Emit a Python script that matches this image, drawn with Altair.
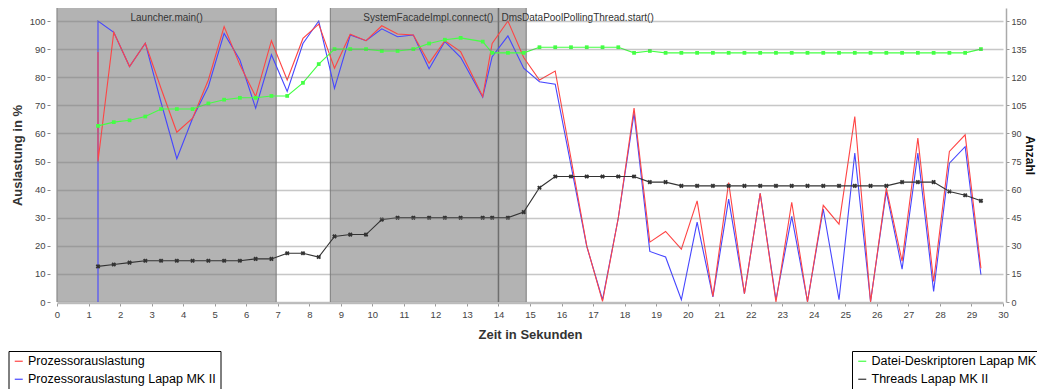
import altair as alt
import pandas as pd

# ---------------- data ----------------
t_cpu = [1.3, 1.3, 1.8, 2.3, 2.8, 3.3, 3.8, 4.3, 4.8, 5.3, 5.8, 6.3, 6.8, 7.3,
         7.8, 8.3, 8.8, 9.3, 9.8, 10.3, 10.8, 11.3, 11.8, 12.3, 12.8, 13.5, 13.8,
         14.3, 14.8, 15.3, 15.8, 16.3, 16.8, 17.3, 17.8, 18.3, 18.8, 19.3, 19.8,
         20.3, 20.8, 21.3, 21.8, 22.3, 22.8, 23.3, 23.8, 24.3, 24.8, 25.3, 25.8,
         26.3, 26.8, 27.3, 27.8, 28.3, 28.8, 29.3]

cpu_all = [89, 50, 96, 83.8, 92.1, 76, 60.4, 65.4, 79, 98, 84.4, 73.1, 93, 79,
           93.8, 98.9, 83.2, 95.3, 93, 98.3, 95.4, 95, 85, 93, 89.1, 73.1, 92,
           100, 87, 79, 82.2, 51, 20, 0.2, 29.9, 69, 21.3, 25.1, 18.8,
           36, 2, 42.5, 3, 38.7, 0, 35.5, 0, 34.4, 27.7, 66, 0,
           40.5, 14.5, 58.3, 7.3, 53.6, 59.5, 12]

cpu_mk2 = [0, 100, 96, 83.8, 92.1, 71, 51, 65.4, 76.7, 95.6, 86.1, 69, 88, 74.9,
           92, 100, 76, 95, 93, 97.2, 94.4, 95, 83, 92.7, 87.1, 72.9, 87.3,
           94.7, 83.2, 78.4, 77.5, 48.6, 19.8, 0.8, 29.9, 67.2, 18, 16, 0.8,
           28.4, 1.8, 36.6, 3, 38.7, 0.8, 30.5, 0.2, 33.1, 0.8, 53, 0.2,
           39.3, 11.7, 53, 3.8, 49.4, 55.3, 9.7]

t_res = t_cpu[1:]

fd_mk = [94, 96, 97, 99, 103, 103, 103, 106, 108, 109, 109, 110, 110,
         117, 127, 135, 135, 135, 134, 134, 135, 138, 140, 141, 139, 133,
         133, 133, 136, 136, 136, 136, 136, 136, 133, 134, 133, 133,
         133, 133, 133, 133, 133, 133, 133, 133, 133, 133, 133, 133,
         133, 133, 133, 133, 133, 133, 135]

threads_mk2 = [19, 20, 21, 22, 22, 22, 22, 22, 22, 22, 23, 23, 26,
               26, 24, 35, 36, 36, 44, 45, 45, 45, 45, 45, 45, 45,
               45, 48, 61, 67, 67, 67, 67, 67, 67, 64, 64, 62,
               62, 62, 62, 62, 62, 62, 62, 62, 62, 62, 62, 62,
               62, 64, 64, 64, 59, 57, 54]

region_start = [0, 8.67]
region_end = [6.95, 14.88]
region_label = ["Launcher.main()", "SystemFacadeImpl.connect()"]
marker_time = [14.0]
marker_label = ["DmsDataPoolPollingThread.start()"]

x_ticks = list(range(0, 31))
left_ticks = list(range(0, 101, 10))
right_ticks = list(range(0, 151, 15))

left_names = ["Prozessorauslastung", "Prozessorauslastung Lapap MK II"]
left_colors = ["#ff4444", "#4646ff"]
right_names = ["Datei-Deskriptoren Lapap MK", "Threads Lapap MK II"]
right_colors = ["#44ff44", "#333333"]

# ---------------- tables ----------------
cpu_df = pd.concat([
    pd.DataFrame({"t": t_cpu, "v": cpu_all, "s": left_names[0], "i": range(len(t_cpu))}),
    pd.DataFrame({"t": t_cpu, "v": cpu_mk2, "s": left_names[1], "i": range(len(t_cpu))}),
])
res_df = pd.concat([
    pd.DataFrame({"t": t_res, "v": fd_mk, "s": right_names[0], "i": range(len(t_res))}),
    pd.DataFrame({"t": t_res, "v": threads_mk2, "s": right_names[1], "i": range(len(t_res))}),
])
reg_df = pd.DataFrame({"s": region_start, "e": region_end, "label": region_label})
mark_df = pd.DataFrame({"t": marker_time, "label": marker_label})

FONT = "Liberation Sans"
xscale = alt.Scale(domain=[0, 30], nice=False, zero=False)
xaxis = alt.Axis(values=x_ticks, grid=False, domain=True, domainColor="#c4c4c4",
                 domainWidth=1.5, offset=1, tickSize=3, tickColor="#999999",
                 labelFontSize=9.5, labelColor="#444444", labelPadding=3,
                 labelFlush=False, labelAngle=0, title="Zeit in Sekunden",
                 titleFontSize=13, titleFontWeight="bold", titleColor="#333333",
                 titlePadding=10)


def X(field):
    return alt.X(field, type="quantitative", scale=xscale, axis=xaxis)


lscale = alt.Scale(domain=[0, 104.63], nice=False, zero=False)
rscale = alt.Scale(domain=[0, 156.94], nice=False, zero=False)

laxis = alt.Axis(values=left_ticks, grid=True, gridColor="#7a7a7a", gridOpacity=0.42,
                 gridWidth=1.5, zindex=1, domain=False, tickSize=3, tickColor="#888888",
                 offset=7, labelFontSize=9.5, labelColor="#444444", labelPadding=2,
                 title="Auslastung in %", titleFontSize=13, titleFontWeight="bold",
                 titleColor="#333333", titlePadding=5)
raxis = alt.Axis(values=right_ticks, orient="right", grid=False, domain=True,
                 domainColor="#aaaaaa", domainWidth=1.5, offset=3, tickSize=3,
                 tickColor="#999999", labelFontSize=9, labelColor="#444444",
                 labelPadding=2, title="Anzahl", titleFontSize=12,
                 titleFontWeight="bold", titleColor="#111111", titleAngle=90,
                 titlePadding=-4)

# ---------------- background annotations ----------------
rects = alt.Chart(reg_df).mark_rect(color="#b3b3b3").encode(x=X("s"), x2="e")
edges_s = alt.Chart(reg_df).mark_rule(color="#8a8a8a", strokeWidth=1.2).encode(x=X("s"))
edges_e = alt.Chart(reg_df).mark_rule(color="#8a8a8a", strokeWidth=1.2).encode(x=X("e"))
vline = alt.Chart(mark_df).mark_rule(color="#6e6e6e", strokeWidth=1.5).encode(x=X("t"))
reg_text = alt.Chart(reg_df).transform_calculate(
    mid="(datum.s + datum.e) / 2"
).mark_text(font=FONT, fontSize=10, color="#333333", baseline="middle").encode(
    x=X("mid"), y=alt.value(10), text="label:N")
mark_text = alt.Chart(mark_df).mark_text(
    font=FONT, fontSize=10, color="#333333", baseline="middle", align="left", dx=3
).encode(x=X("t"), y=alt.value(10), text="label:N")

# ---------------- left series ----------------
lcolor_scale = alt.Scale(domain=left_names, range=left_colors)
llegend = alt.Legend(title=None, orient="none", legendX=-48.5, legendY=343,
                     direction="vertical", symbolType="stroke", symbolSize=64,
                     symbolStrokeWidth=1.2, labelFont=FONT, labelFontSize=12.5,
                     labelColor="#000000", strokeColor="#000000", fillColor="#ffffff",
                     padding=4, rowPadding=5, labelOffset=3, labelLimit=400)


def cpu_line(name):
    return alt.Chart(cpu_df).transform_filter(
        alt.datum.s == name
    ).mark_line(strokeWidth=1.1).encode(
        x=X("t"),
        y=alt.Y("v:Q", scale=lscale, axis=laxis),
        color=alt.Color("s:N", scale=lcolor_scale, legend=llegend),
        order="i:Q",
    )


left = alt.layer(cpu_line(left_names[1]), cpu_line(left_names[0]))

# ---------------- right series ----------------
rcolor_scale = alt.Scale(domain=right_names, range=right_colors)
rlegend = alt.Legend(title=None, orient="none", legendX=795, legendY=343,
                     direction="vertical", symbolType="stroke", symbolSize=64,
                     symbolStrokeWidth=1.2, labelFont=FONT, labelFontSize=12.5,
                     labelColor="#000000", strokeColor="#000000", fillColor="#ffffff",
                     padding=4, rowPadding=5, labelOffset=3, labelLimit=400)

ry = alt.Y("v:Q", scale=rscale, axis=raxis)
rlines = alt.Chart(res_df).mark_line(strokeWidth=1.1).encode(
    x=X("t"), y=ry,
    color=alt.Color("s:N", scale=rcolor_scale, legend=rlegend),
    detail="s:N", order="i:Q")
pts_fd = alt.Chart(res_df).transform_filter(alt.datum.s == right_names[0]).mark_point(
    shape="square", filled=True, size=14, opacity=1).encode(
    x=X("t"), y=ry, color=alt.Color("s:N", scale=rcolor_scale, legend=rlegend))
pts_th = alt.Chart(res_df).transform_filter(alt.datum.s == right_names[1]).mark_point(
    shape="cross", filled=True, size=22, angle=45, opacity=1).encode(
    x=X("t"), y=ry, color=alt.Color("s:N", scale=rcolor_scale, legend=rlegend))

right = alt.layer(rlines, pts_fd, pts_th)

chart = alt.layer(
    rects, edges_s, edges_e, vline, reg_text, mark_text, left, right
).resolve_scale(
    y="independent", color="independent"
).properties(
    width=946, height=294,
    autosize=alt.AutoSizeParams(type="none"),
    padding={"left": 49, "top": 0, "right": 34, "bottom": 87},
).configure_view(stroke=None).configure_axis(
    labelFont=FONT, titleFont=FONT
).configure_text(font=FONT)

chart.save("out.html", embed_options={"renderer": "svg", "actions": False})
